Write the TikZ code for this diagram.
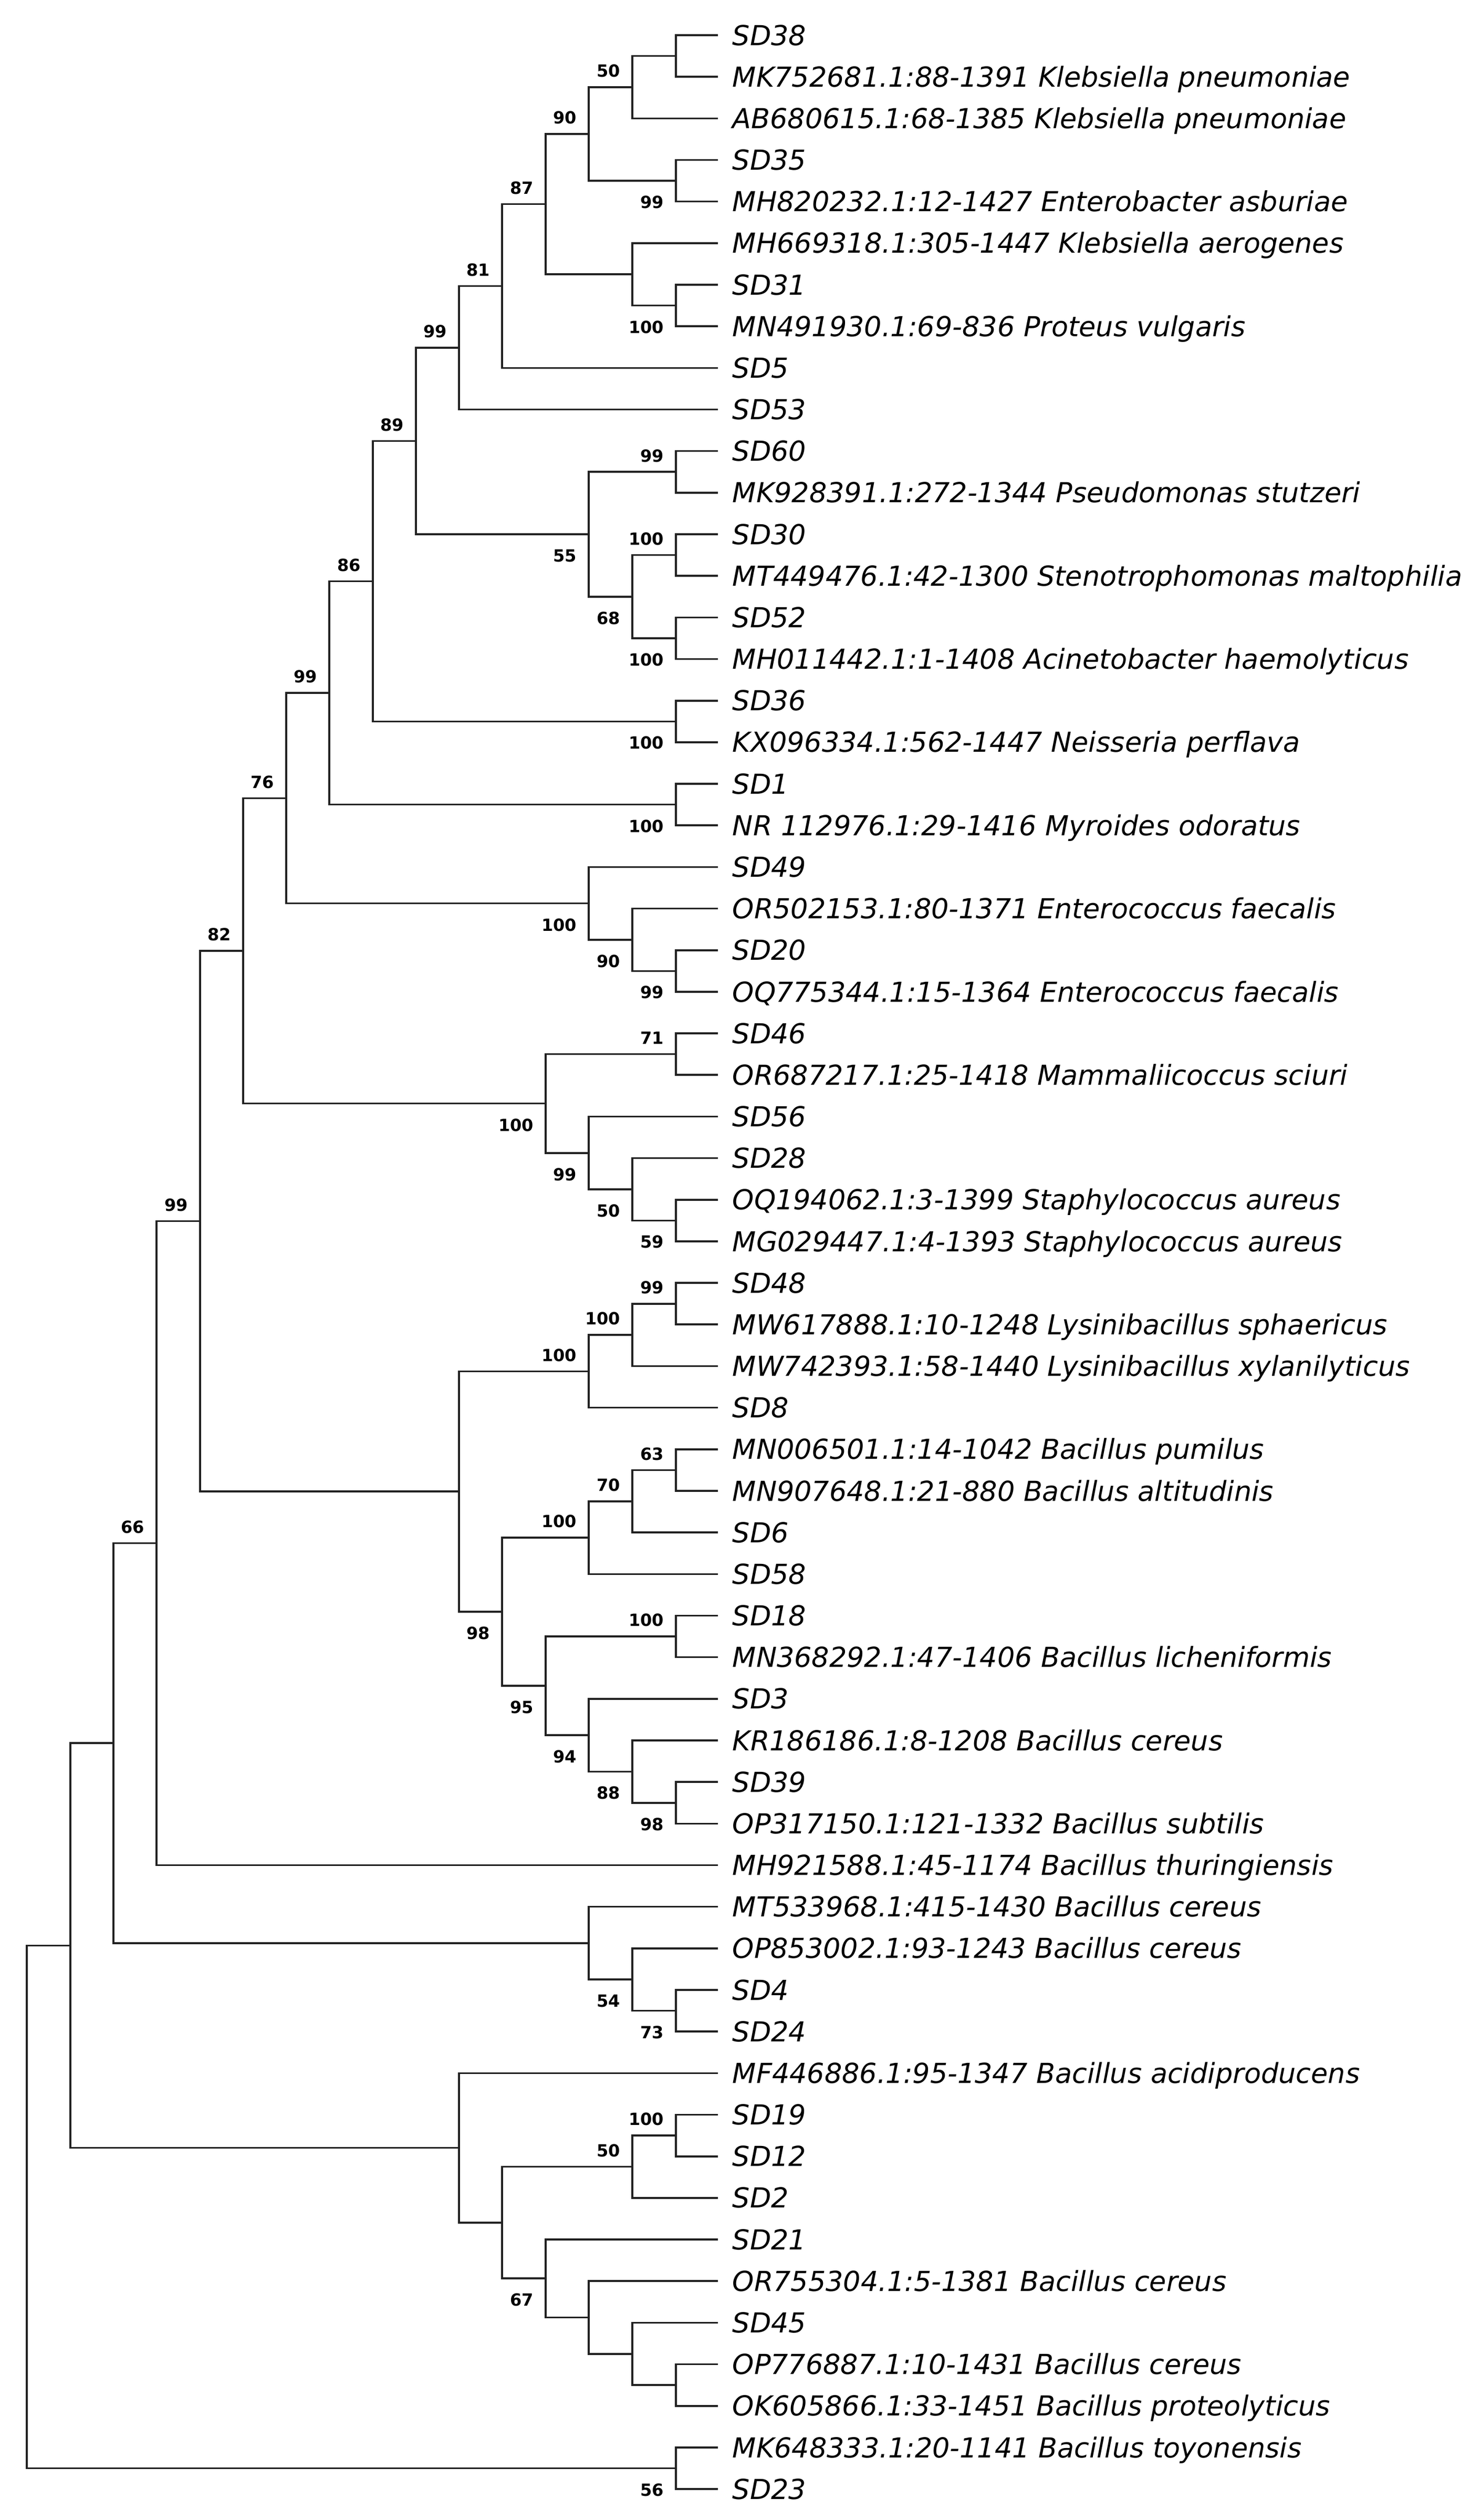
\documentclass[tikz,border=0pt]{standalone}
\usepackage{fontspec}
\usepackage{xcolor}
\usepackage{tikz}
\newfontfamily\treefont{DejaVu Sans}
\definecolor{treeline}{HTML}{222222}

\begin{document}
\begin{tikzpicture}[
    x=0.25pt, y=-19.7925pt,
    branch/.style={line width=0.9pt, color=treeline},
    taxon/.style={anchor=west, inner xsep=6.75pt, inner ysep=0pt, text height=9.55pt, text depth=0pt, font=\treefont\itshape\fontsize{13.1}{15}\selectfont},
    boot/.style={inner sep=0pt, font=\treefont\bfseries\fontsize{8}{9}\selectfont},
    bootup/.style={boot, anchor=south east, xshift=-5.5pt, yshift=4.5pt},
    bootdown/.style={boot, anchor=north east, xshift=-5.5pt, yshift=-7pt}
]

\useasboundingbox (0,0.1537) rectangle (2819,60.745);

% Taxa
\node[taxon] (t1) at (1367,1) {SD38};
\node[taxon] (t2) at (1367,2) {MK752681.1:88-1391 Klebsiella pneumoniae};
\node[taxon] (t3) at (1367,3) {AB680615.1:68-1385 Klebsiella pneumoniae};
\node[taxon] (t4) at (1367,4) {SD35};
\node[taxon] (t5) at (1367,5) {MH820232.1:12-1427 Enterobacter asburiae};
\node[taxon] (t6) at (1367,6) {MH669318.1:305-1447 Klebsiella aerogenes};
\node[taxon] (t7) at (1367,7) {SD31};
\node[taxon] (t8) at (1367,8) {MN491930.1:69-836 Proteus vulgaris};
\node[taxon] (t9) at (1367,9) {SD5};
\node[taxon] (t10) at (1367,10) {SD53};
\node[taxon] (t11) at (1367,11) {SD60};
\node[taxon] (t12) at (1367,12) {MK928391.1:272-1344 Pseudomonas stutzeri};
\node[taxon] (t13) at (1367,13) {SD30};
\node[taxon] (t14) at (1367,14) {MT449476.1:42-1300 Stenotrophomonas maltophilia};
\node[taxon] (t15) at (1367,15) {SD52};
\node[taxon] (t16) at (1367,16) {MH011442.1:1-1408 Acinetobacter haemolyticus};
\node[taxon] (t17) at (1367,17) {SD36};
\node[taxon] (t18) at (1367,18) {KX096334.1:562-1447 Neisseria perflava};
\node[taxon] (t19) at (1367,19) {SD1};
\node[taxon] (t20) at (1367,20) {NR 112976.1:29-1416 Myroides odoratus};
\node[taxon] (t21) at (1367,21) {SD49};
\node[taxon] (t22) at (1367,22) {OR502153.1:80-1371 Enterococcus faecalis};
\node[taxon] (t23) at (1367,23) {SD20};
\node[taxon] (t24) at (1367,24) {OQ775344.1:15-1364 Enterococcus faecalis};
\node[taxon] (t25) at (1367,25) {SD46};
\node[taxon] (t26) at (1367,26) {OR687217.1:25-1418 Mammaliicoccus sciuri};
\node[taxon] (t27) at (1367,27) {SD56};
\node[taxon] (t28) at (1367,28) {SD28};
\node[taxon] (t29) at (1367,29) {OQ194062.1:3-1399 Staphylococcus aureus};
\node[taxon] (t30) at (1367,30) {MG029447.1:4-1393 Staphylococcus aureus};
\node[taxon] (t31) at (1367,31) {SD48};
\node[taxon] (t32) at (1367,32) {MW617888.1:10-1248 Lysinibacillus sphaericus};
\node[taxon] (t33) at (1367,33) {MW742393.1:58-1440 Lysinibacillus xylanilyticus};
\node[taxon] (t34) at (1367,34) {SD8};
\node[taxon] (t35) at (1367,35) {MN006501.1:14-1042 Bacillus pumilus};
\node[taxon] (t36) at (1367,36) {MN907648.1:21-880 Bacillus altitudinis};
\node[taxon] (t37) at (1367,37) {SD6};
\node[taxon] (t38) at (1367,38) {SD58};
\node[taxon] (t39) at (1367,39) {SD18};
\node[taxon] (t40) at (1367,40) {MN368292.1:47-1406 Bacillus licheniformis};
\node[taxon] (t41) at (1367,41) {SD3};
\node[taxon] (t42) at (1367,42) {KR186186.1:8-1208 Bacillus cereus};
\node[taxon] (t43) at (1367,43) {SD39};
\node[taxon] (t44) at (1367,44) {OP317150.1:121-1332 Bacillus subtilis};
\node[taxon] (t45) at (1367,45) {MH921588.1:45-1174 Bacillus thuringiensis};
\node[taxon] (t46) at (1367,46) {MT533968.1:415-1430 Bacillus cereus};
\node[taxon] (t47) at (1367,47) {OP853002.1:93-1243 Bacillus cereus};
\node[taxon] (t48) at (1367,48) {SD4};
\node[taxon] (t49) at (1367,49) {SD24};
\node[taxon] (t50) at (1367,50) {MF446886.1:95-1347 Bacillus acidiproducens};
\node[taxon] (t51) at (1367,51) {SD19};
\node[taxon] (t52) at (1367,52) {SD12};
\node[taxon] (t53) at (1367,53) {SD2};
\node[taxon] (t54) at (1367,54) {SD21};
\node[taxon] (t55) at (1367,55) {OR755304.1:5-1381 Bacillus cereus};
\node[taxon] (t56) at (1367,56) {SD45};
\node[taxon] (t57) at (1367,57) {OP776887.1:10-1431 Bacillus cereus};
\node[taxon] (t58) at (1367,58) {OK605866.1:33-1451 Bacillus proteolyticus};
\node[taxon] (t59) at (1367,59) {MK648333.1:20-1141 Bacillus toyonensis};
\node[taxon] (t60) at (1367,60) {SD23};

% Internal nodes
\coordinate (n1) at (1287,1.5);
\coordinate (n2) at (1204,2.25);
\coordinate (n3) at (1287,4.5);
\coordinate (n4) at (1121,3.375);
\coordinate (n5) at (1287,7.5);
\coordinate (n6) at (1204,6.75);
\coordinate (n7) at (1039,5.0625);
\coordinate (n8) at (956,7.0313);
\coordinate (n9) at (874,8.5156);
\coordinate (n10) at (1287,11.5);
\coordinate (n11) at (1287,13.5);
\coordinate (n12) at (1287,15.5);
\coordinate (n13) at (1204,14.5);
\coordinate (n14) at (1121,13);
\coordinate (n15) at (792,10.7578);
\coordinate (n16) at (1287,17.5);
\coordinate (n17) at (710,14.1289);
\coordinate (n18) at (1287,19.5);
\coordinate (n19) at (627,16.8145);
\coordinate (n20) at (1287,23.5);
\coordinate (n21) at (1204,22.75);
\coordinate (n22) at (1121,21.875);
\coordinate (n23) at (545,19.3447);
\coordinate (n24) at (1287,25.5);
\coordinate (n25) at (1287,29.5);
\coordinate (n26) at (1204,28.75);
\coordinate (n27) at (1121,27.875);
\coordinate (n28) at (1039,26.6875);
\coordinate (n29) at (463,23.0161);
\coordinate (n30) at (1287,31.5);
\coordinate (n31) at (1204,32.25);
\coordinate (n32) at (1121,33.125);
\coordinate (n33) at (1287,35.5);
\coordinate (n34) at (1204,36.25);
\coordinate (n35) at (1121,37.125);
\coordinate (n36) at (1287,39.5);
\coordinate (n37) at (1287,43.5);
\coordinate (n38) at (1204,42.75);
\coordinate (n39) at (1121,41.875);
\coordinate (n40) at (1039,40.6875);
\coordinate (n41) at (956,38.9063);
\coordinate (n42) at (874,36.0156);
\coordinate (n43) at (381,29.5159);
\coordinate (n44) at (298,37.2579);
\coordinate (n45) at (1287,48.5);
\coordinate (n46) at (1204,47.75);
\coordinate (n47) at (1121,46.875);
\coordinate (n48) at (216,42.0665);
\coordinate (n49) at (1287,51.5);
\coordinate (n50) at (1204,52.25);
\coordinate (n51) at (1287,57.5);
\coordinate (n52) at (1204,56.75);
\coordinate (n53) at (1121,55.875);
\coordinate (n54) at (1039,54.9375);
\coordinate (n55) at (956,53.5938);
\coordinate (n56) at (874,51.7969);
\coordinate (n57) at (134,46.9317);
\coordinate (n58) at (1287,59.5);
\coordinate (n59) at (51,53.2158);

% Branches
\draw[branch] (t1.west) -| (n1) |- (t2.west);
\draw[branch] (n1) -| (n2) |- (t3.west);
\draw[branch] (t4.west) -| (n3) |- (t5.west);
\draw[branch] (n2) -| (n4) |- (n3);
\draw[branch] (t7.west) -| (n5) |- (t8.west);
\draw[branch] (t6.west) -| (n6) |- (n5);
\draw[branch] (n4) -| (n7) |- (n6);
\draw[branch] (n7) -| (n8) |- (t9.west);
\draw[branch] (n8) -| (n9) |- (t10.west);
\draw[branch] (t11.west) -| (n10) |- (t12.west);
\draw[branch] (t13.west) -| (n11) |- (t14.west);
\draw[branch] (t15.west) -| (n12) |- (t16.west);
\draw[branch] (n11) -| (n13) |- (n12);
\draw[branch] (n10) -| (n14) |- (n13);
\draw[branch] (n9) -| (n15) |- (n14);
\draw[branch] (t17.west) -| (n16) |- (t18.west);
\draw[branch] (n15) -| (n17) |- (n16);
\draw[branch] (t19.west) -| (n18) |- (t20.west);
\draw[branch] (n17) -| (n19) |- (n18);
\draw[branch] (t23.west) -| (n20) |- (t24.west);
\draw[branch] (t22.west) -| (n21) |- (n20);
\draw[branch] (t21.west) -| (n22) |- (n21);
\draw[branch] (n19) -| (n23) |- (n22);
\draw[branch] (t25.west) -| (n24) |- (t26.west);
\draw[branch] (t29.west) -| (n25) |- (t30.west);
\draw[branch] (t28.west) -| (n26) |- (n25);
\draw[branch] (t27.west) -| (n27) |- (n26);
\draw[branch] (n24) -| (n28) |- (n27);
\draw[branch] (n23) -| (n29) |- (n28);
\draw[branch] (t31.west) -| (n30) |- (t32.west);
\draw[branch] (n30) -| (n31) |- (t33.west);
\draw[branch] (n31) -| (n32) |- (t34.west);
\draw[branch] (t35.west) -| (n33) |- (t36.west);
\draw[branch] (n33) -| (n34) |- (t37.west);
\draw[branch] (n34) -| (n35) |- (t38.west);
\draw[branch] (t39.west) -| (n36) |- (t40.west);
\draw[branch] (t43.west) -| (n37) |- (t44.west);
\draw[branch] (t42.west) -| (n38) |- (n37);
\draw[branch] (t41.west) -| (n39) |- (n38);
\draw[branch] (n36) -| (n40) |- (n39);
\draw[branch] (n35) -| (n41) |- (n40);
\draw[branch] (n32) -| (n42) |- (n41);
\draw[branch] (n29) -| (n43) |- (n42);
\draw[branch] (n43) -| (n44) |- (t45.west);
\draw[branch] (t48.west) -| (n45) |- (t49.west);
\draw[branch] (t47.west) -| (n46) |- (n45);
\draw[branch] (t46.west) -| (n47) |- (n46);
\draw[branch] (n44) -| (n48) |- (n47);
\draw[branch] (t51.west) -| (n49) |- (t52.west);
\draw[branch] (n49) -| (n50) |- (t53.west);
\draw[branch] (t57.west) -| (n51) |- (t58.west);
\draw[branch] (t56.west) -| (n52) |- (n51);
\draw[branch] (t55.west) -| (n53) |- (n52);
\draw[branch] (t54.west) -| (n54) |- (n53);
\draw[branch] (n50) -| (n55) |- (n54);
\draw[branch] (t50.west) -| (n56) |- (n55);
\draw[branch] (n48) -| (n57) |- (n56);
\draw[branch] (t59.west) -| (n58) |- (t60.west);
\draw[branch] (n57) -| (n59) |- (n58);

% Bootstrap values
\node[bootup] (b2) at (n2) {50};
\node[bootdown] (b3) at (n3) {99};
\node[bootup] (b4) at (n4) {90};
\node[bootdown] (b5) at (n5) {100};
\node[bootup] (b7) at (n7) {87};
\node[bootup] (b8) at (n8) {81};
\node[bootup] (b9) at (n9) {99};
\node[bootup] (b10) at (n10) {99};
\node[bootup] (b11) at (n11) {100};
\node[bootdown] (b12) at (n12) {100};
\node[bootdown] (b13) at (n13) {68};
\node[bootdown] (b14) at (n14) {55};
\node[bootup] (b15) at (n15) {89};
\node[bootdown] (b16) at (n16) {100};
\node[bootup] (b17) at (n17) {86};
\node[bootdown] (b18) at (n18) {100};
\node[bootup] (b19) at (n19) {99};
\node[bootdown] (b20) at (n20) {99};
\node[bootdown] (b21) at (n21) {90};
\node[bootdown] (b22) at (n22) {100};
\node[bootup] (b23) at (n23) {76};
\node[bootup] (b24) at (n24) {71};
\node[bootdown] (b25) at (n25) {59};
\node[bootdown] (b26) at (n26) {50};
\node[bootdown] (b27) at (n27) {99};
\node[bootdown] (b28) at (n28) {100};
\node[bootup] (b29) at (n29) {82};
\node[bootup] (b30) at (n30) {99};
\node[bootup] (b31) at (n31) {100};
\node[bootup] (b32) at (n32) {100};
\node[bootup] (b33) at (n33) {63};
\node[bootup] (b34) at (n34) {70};
\node[bootup] (b35) at (n35) {100};
\node[bootup] (b36) at (n36) {100};
\node[bootdown] (b37) at (n37) {98};
\node[bootdown] (b38) at (n38) {88};
\node[bootdown] (b39) at (n39) {94};
\node[bootdown] (b40) at (n40) {95};
\node[bootdown] (b41) at (n41) {98};
\node[bootup] (b43) at (n43) {99};
\node[bootup] (b44) at (n44) {66};
\node[bootdown] (b45) at (n45) {73};
\node[bootdown] (b46) at (n46) {54};
\node[bootup] (b49) at (n49) {100};
\node[bootup] (b50) at (n50) {50};
\node[bootdown] (b54) at (n54) {67};
\node[bootdown] (b58) at (n58) {56};

\end{tikzpicture}
\end{document}
